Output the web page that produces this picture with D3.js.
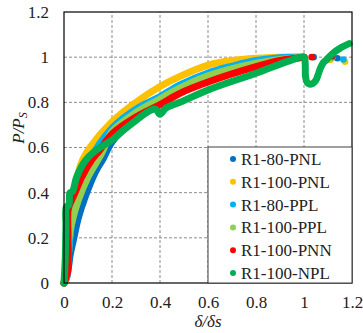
<!DOCTYPE html>
<html>
<head>
<meta charset="utf-8">
<script src="https://cdn.jsdelivr.net/npm/d3@7"></script>
<style>
  body { margin: 0; background: #fff; }
  svg text { font-family: "Liberation Serif", "Times New Roman", serif; }
</style>
</head>
<body>
<div class="svg-container"></div>
<script>
// [delta/delta_s, P/P_s]
const seriesNames = ["R1-80-PNL", "R1-100-PNL", "R1-80-PPL", "R1-100-PPL", "R1-100-PNN", "R1-100-NPL"];
const seriesColors = ["#0070C0", "#FFC000", "#00B0F0", "#92D050", "#FF0000", "#00B050"];

const pnl80 = [[0,0],[0.01,0.02],[0.02,0.08],[0.025,0.12],[0.039,0.19],[0.06,0.29],[0.0875,0.38],[0.13,0.49],
  [0.163,0.55],[0.2,0.625],[0.3,0.73],[0.4,0.80],[0.44,0.83],[0.6,0.91],[0.7,0.95],[0.8,0.975],[0.9,0.992],[1.0,1.0]];
const pnl100 = [[0,0],[0.008,0.02],[0.015,0.08],[0.025,0.22],[0.04,0.37],[0.06,0.49],[0.08,0.55],[0.108,0.6],
  [0.2,0.714],[0.3,0.8],[0.4,0.87],[0.483,0.915],[0.6,0.965],[0.7,0.985],[0.8,0.995],[0.9,1.0],[1.0,1.0]];
const ppl80 = [[0,0],[0.01,0.05],[0.02,0.15],[0.03,0.25],[0.06,0.42],[0.1,0.53],[0.2,0.686],[0.3,0.77],
  [0.4,0.825],[0.483,0.877],[0.6,0.93],[0.7,0.96],[0.8,0.985],[0.9,0.998],[1.0,1.0]];
const ppl100 = [[0,0],[0.01,0.08],[0.018,0.177],[0.032,0.265],[0.06,0.368],[0.1,0.47],[0.157,0.575],[0.2,0.67],
  [0.3,0.755],[0.4,0.815],[0.44,0.84],[0.6,0.917],[0.8,0.973],[0.9,0.99],[1.0,1.0]];
const pnn100 = [[0,0],[0.015,0.05],[0.017,0.2],[0.018,0.33],[0.032,0.367],[0.046,0.40],[0.074,0.47],[0.115,0.545],
  [0.15,0.59],[0.2,0.66],[0.3,0.735],[0.4,0.79],[0.483,0.84],[0.6,0.89],[0.8,0.958],[0.9,0.985],[1.0,1.0]];
const npl100 = [[0,0],[0.005,0.1],[0.008,0.25],[0.01,0.338],[0.02,0.345],[0.025,0.4],[0.035,0.405],[0.053,0.47],
  [0.0875,0.54],[0.13,0.585],[0.2,0.633],[0.275,0.70],[0.38,0.77],[0.40,0.748],[0.425,0.775],[0.483,0.80],
  [0.6,0.855],[0.8,0.929],[0.942,0.985],[1.0,1.0],[1.005,0.97],[1.006,0.92],[1.012,0.89],[1.028,0.88],
  [1.048,0.895],[1.058,0.92],[1.068,0.95],[1.08,0.975],[1.095,0.99],[1.12,1.017],[1.15,1.04],[1.188,1.06]];

// loose markers past the peak
const tailPoints = [
  [[1.04,1.0],[1.139,0.995]],
  [[1.11,0.988],[1.171,0.98]],
  [[1.12,1.0],[1.164,0.99]],
  [],
  [[1.032,1.0],[1.118,1.005]],
  []
];
const allSeries = [pnl80, pnl100, ppl80, ppl100, pnn100, npl100];

const xTicks = [0, 0.2, 0.4, 0.6, 0.8, 1, 1.2];
const yTicks = [0, 0.2, 0.4, 0.6, 0.8, 1, 1.2];

const width = 363, height = 333;
const margin = {top: 12, right: 11, bottom: 50, left: 64};

const svg = d3.select(".svg-container").append("svg")
  .attr("width", width).attr("height", height);

const xScale = d3.scaleLinear().domain([0, 1.2]).range([margin.left, width - margin.right]);
const yScale = d3.scaleLinear().domain([0, 1.2]).range([height - margin.bottom, margin.top]);

// grid
svg.append("g").selectAll("line").data(xTicks.slice(1, -1)).join("line")
  .attr("x1", d => xScale(d)).attr("x2", d => xScale(d))
  .attr("y1", yScale(0)).attr("y2", yScale(1.2))
  .style("stroke", "#8c8c8c").style("stroke-dasharray", "3,2").style("stroke-width", 1);
svg.append("g").selectAll("line").data(yTicks.slice(1, -1)).join("line")
  .attr("y1", d => yScale(d)).attr("y2", d => yScale(d))
  .attr("x1", xScale(0)).attr("x2", xScale(1.2))
  .style("stroke", "#8c8c8c").style("stroke-dasharray", "3,2").style("stroke-width", 1);

// axes
const xAxis = svg.append("g")
  .attr("transform", `translate(0,${yScale(0)})`)
  .call(d3.axisBottom(xScale).tickValues(xTicks).tickSize(0).tickPadding(13).tickFormat(d3.format("~g")));
const yAxis = svg.append("g")
  .attr("transform", `translate(${xScale(0)},0)`)
  .call(d3.axisLeft(yScale).tickValues(yTicks).tickSize(0).tickPadding(15).tickFormat(d3.format("~g")));
[xAxis, yAxis].forEach(a => {
  a.select(".domain").remove();
  a.selectAll("text").style("font-size", "17px").style("fill", "#222")
    .style("font-family", "'Liberation Serif', serif");
});

// curves
const line = d3.line()
  .x(d => xScale(d[0]))
  .y(d => yScale(d[1]))
  .curve(d3.curveCatmullRom.alpha(0.5));

allSeries.forEach((s, i) => {
  svg.append("path")
    .datum(s)
    .attr("d", line)
    .style("fill", "none")
    .style("stroke", seriesColors[i])
    .style("stroke-width", 7)
    .style("stroke-linejoin", "round")
    .style("stroke-linecap", "round");
  svg.append("g").selectAll("circle").data(tailPoints[i]).join("circle")
    .attr("cx", d => xScale(d[0])).attr("cy", d => yScale(d[1]))
    .attr("r", 3.3).style("fill", seriesColors[i]);
});

// plot border
svg.append("rect")
  .attr("x", xScale(0)).attr("y", yScale(1.2))
  .attr("width", xScale(1.2) - xScale(0)).attr("height", yScale(0) - yScale(1.2))
  .style("fill", "none").style("stroke", "#000").style("stroke-width", 1.2);

// legend
const legend = svg.append("g").attr("transform", "translate(208,147)");
legend.append("rect")
  .attr("width", 144).attr("height", 136)
  .style("fill", "#fff").style("stroke", "#404040").style("stroke-width", 1);
seriesNames.forEach((name, i) => {
  const yy = 12 + i * 22.8;
  legend.append("circle").attr("cx", 25).attr("cy", yy).attr("r", 3).style("fill", seriesColors[i]);
  legend.append("text").attr("x", 33).attr("y", yy).attr("dy", "0.35em")
    .style("font-size", "17px").style("fill", "#222").text(name);
});

// axis titles
svg.append("text")
  .attr("x", 208).attr("y", 327)
  .style("text-anchor", "middle").style("font-size", "17px").style("font-style", "italic").style("fill", "#222")
  .text("δ/δs");

const yTitle = svg.append("text")
  .attr("transform", "translate(24,128) rotate(-90)")
  .style("text-anchor", "middle").style("font-size", "17px").style("font-style", "italic").style("fill", "#222");
yTitle.append("tspan").text("P/P");
yTitle.append("tspan").attr("dy", "0.25em").style("font-size", "12px").text("S");
</script>
</body>
</html>
